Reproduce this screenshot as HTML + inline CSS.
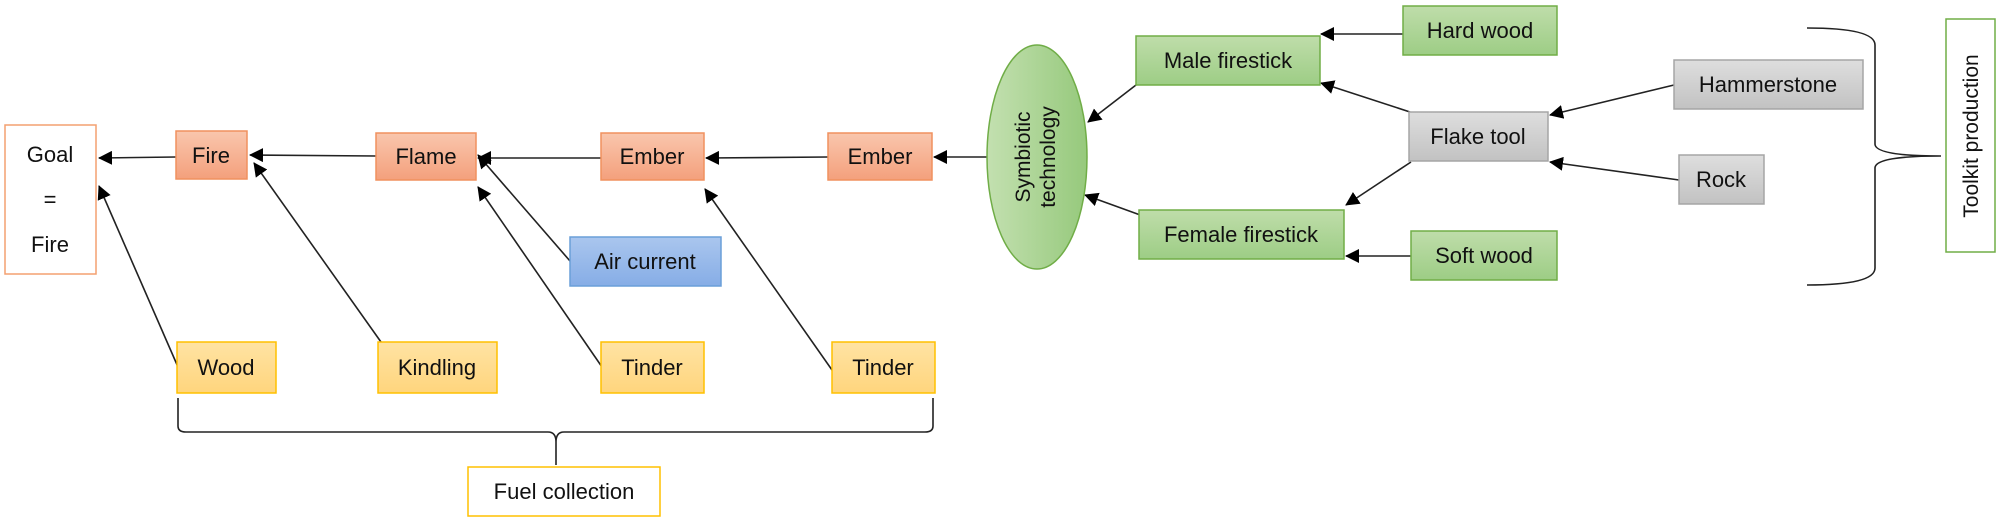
<!DOCTYPE html>
<html><head><meta charset="utf-8"><style>
html,body{margin:0;padding:0;background:#fff;}
svg{display:block;}
text{font-family:"Liberation Sans",sans-serif;font-size:22px;fill:#111;}
</style></head><body>
<svg width="2000" height="524" viewBox="0 0 2000 524" xmlns="http://www.w3.org/2000/svg">
<defs>
<linearGradient id="or" x1="0" y1="0" x2="0" y2="1"><stop offset="0" stop-color="#f9c6ad"/><stop offset="1" stop-color="#f4a07c"/></linearGradient>
<linearGradient id="ye" x1="0" y1="0" x2="0" y2="1"><stop offset="0" stop-color="#ffe3a3"/><stop offset="1" stop-color="#ffd57d"/></linearGradient>
<linearGradient id="gr" x1="0" y1="0" x2="0" y2="1"><stop offset="0" stop-color="#bfddaa"/><stop offset="1" stop-color="#9dcd85"/></linearGradient>
<linearGradient id="gre" x1="0" y1="0" x2="1" y2="0"><stop offset="0" stop-color="#c3e0b0"/><stop offset="1" stop-color="#96c97c"/></linearGradient>
<linearGradient id="gy" x1="0" y1="0" x2="0" y2="1"><stop offset="0" stop-color="#dedede"/><stop offset="1" stop-color="#c2c2c2"/></linearGradient>
<linearGradient id="bl" x1="0" y1="0" x2="0" y2="1"><stop offset="0" stop-color="#aac6ee"/><stop offset="1" stop-color="#86ade6"/></linearGradient>
<marker id="a" markerWidth="10" markerHeight="10" refX="9" refY="5" orient="auto" markerUnits="userSpaceOnUse" viewBox="0 0 10 10"><path d="M0,0 L10,5 L0,10 z" fill="#000"/></marker>
<marker id="ah" markerWidth="14" markerHeight="14" refX="13" refY="7" orient="auto" markerUnits="userSpaceOnUse" viewBox="0 0 14 14"><path d="M0,0 L14,7 L0,14 z" fill="#000"/></marker>
</defs>

<!-- connectors -->
<g stroke="#222" stroke-width="1.6" fill="none">
<line x1="176" y1="157" x2="99" y2="158" marker-end="url(#ah)"/>
<line x1="376" y1="156" x2="250" y2="155" marker-end="url(#ah)"/>
<line x1="601" y1="158" x2="478" y2="158" marker-end="url(#ah)"/>
<line x1="828" y1="157" x2="706" y2="158" marker-end="url(#ah)"/>
<line x1="987" y1="157" x2="934" y2="157" marker-end="url(#ah)"/>
<line x1="178" y1="367" x2="99" y2="186" marker-end="url(#ah)"/>
<line x1="381" y1="342" x2="254" y2="163" marker-end="url(#ah)"/>
<line x1="602" y1="367" x2="478" y2="187" marker-end="url(#ah)"/>
<line x1="570" y1="261" x2="478" y2="155" marker-end="url(#ah)"/>
<line x1="832" y1="370" x2="705" y2="189" marker-end="url(#ah)"/>
<line x1="1136" y1="85" x2="1088" y2="122" marker-end="url(#ah)"/>
<line x1="1143" y1="216" x2="1085" y2="195" marker-end="url(#ah)"/>
<line x1="1403" y1="34" x2="1321" y2="34" marker-end="url(#ah)"/>
<line x1="1410" y1="112" x2="1321" y2="83" marker-end="url(#ah)"/>
<line x1="1411" y1="162" x2="1346" y2="205" marker-end="url(#ah)"/>
<line x1="1674" y1="85" x2="1550" y2="115" marker-end="url(#ah)"/>
<line x1="1679" y1="180" x2="1550" y2="162" marker-end="url(#ah)"/>
<line x1="1411" y1="256" x2="1346" y2="256" marker-end="url(#ah)"/>
<!-- bottom brace -->
<path d="M178,398 L178,426 Q178,432 186,432 L548,432 Q556,432 556,442 L556,465 M556,442 Q556,432 564,432 L925,432 Q933,432 933,426 L933,398"/>
<!-- right brace -->
<path d="M1807,28 Q1875,28 1875,45 L1875,144 Q1875,156 1941,156 M1875,168 Q1875,156 1941,156 M1875,168 L1875,268 Q1875,285 1807,285"/>
</g>

<!-- boxes -->
<rect x="5" y="125" width="91" height="149" fill="#fff" stroke="#f4a070" stroke-width="1.5"/>
<text x="50" y="162" text-anchor="middle">Goal</text>
<text x="50" y="207" text-anchor="middle">=</text>
<text x="50" y="252" text-anchor="middle">Fire</text>

<g stroke="#f0915f" stroke-width="1.5" fill="url(#or)">
<rect x="176" y="131" width="71" height="48"/>
<rect x="376" y="133" width="100" height="47"/>
<rect x="601" y="133" width="103" height="47"/>
<rect x="828" y="133" width="104" height="47"/>
</g>
<text x="211" y="163" text-anchor="middle">Fire</text>
<text x="426" y="164" text-anchor="middle">Flame</text>
<text x="652" y="164" text-anchor="middle">Ember</text>
<text x="880" y="164" text-anchor="middle">Ember</text>

<rect x="570" y="237" width="151" height="49" fill="url(#bl)" stroke="#6a9fd8" stroke-width="1.5"/>
<text x="645" y="269" text-anchor="middle">Air current</text>

<g stroke="#ffc000" stroke-width="1.5" fill="url(#ye)">
<rect x="177" y="342" width="99" height="51"/>
<rect x="378" y="342" width="119" height="51"/>
<rect x="601" y="342" width="103" height="51"/>
<rect x="832" y="342" width="103" height="51"/>
</g>
<text x="226" y="375" text-anchor="middle">Wood</text>
<text x="437" y="375" text-anchor="middle">Kindling</text>
<text x="652" y="375" text-anchor="middle">Tinder</text>
<text x="883" y="375" text-anchor="middle">Tinder</text>

<rect x="468" y="467" width="192" height="49" fill="#fff" stroke="#ffc000" stroke-width="1.5"/>
<text x="564" y="499" text-anchor="middle">Fuel collection</text>

<ellipse cx="1037" cy="157" rx="50" ry="112" fill="url(#gre)" stroke="#70ad47" stroke-width="1.5"/>
<text transform="translate(1030,157) rotate(-90)" text-anchor="middle" style="font-size:21px">Symbiotic</text>
<text transform="translate(1055,157) rotate(-90)" text-anchor="middle" style="font-size:21px">technology</text>

<g stroke="#70ad47" stroke-width="1.5" fill="url(#gr)">
<rect x="1136" y="36" width="184" height="49"/>
<rect x="1403" y="6" width="154" height="49"/>
<rect x="1139" y="210" width="205" height="49"/>
<rect x="1411" y="231" width="146" height="49"/>
</g>
<text x="1228" y="68" text-anchor="middle">Male firestick</text>
<text x="1480" y="38" text-anchor="middle">Hard wood</text>
<text x="1241" y="242" text-anchor="middle">Female firestick</text>
<text x="1484" y="263" text-anchor="middle">Soft wood</text>

<g stroke="#a5a5a5" stroke-width="1.5" fill="url(#gy)">
<rect x="1409" y="112" width="139" height="49"/>
<rect x="1674" y="60" width="189" height="49"/>
<rect x="1679" y="155" width="85" height="49"/>
</g>
<text x="1478" y="144" text-anchor="middle">Flake tool</text>
<text x="1768" y="92" text-anchor="middle">Hammerstone</text>
<text x="1721" y="187" text-anchor="middle">Rock</text>

<rect x="1946" y="19" width="49" height="233" fill="#fff" stroke="#70ad47" stroke-width="1.5"/>
<text transform="translate(1978,136) rotate(-90)" text-anchor="middle" style="font-size:21px">Toolkit production</text>
</svg>
</body></html>
